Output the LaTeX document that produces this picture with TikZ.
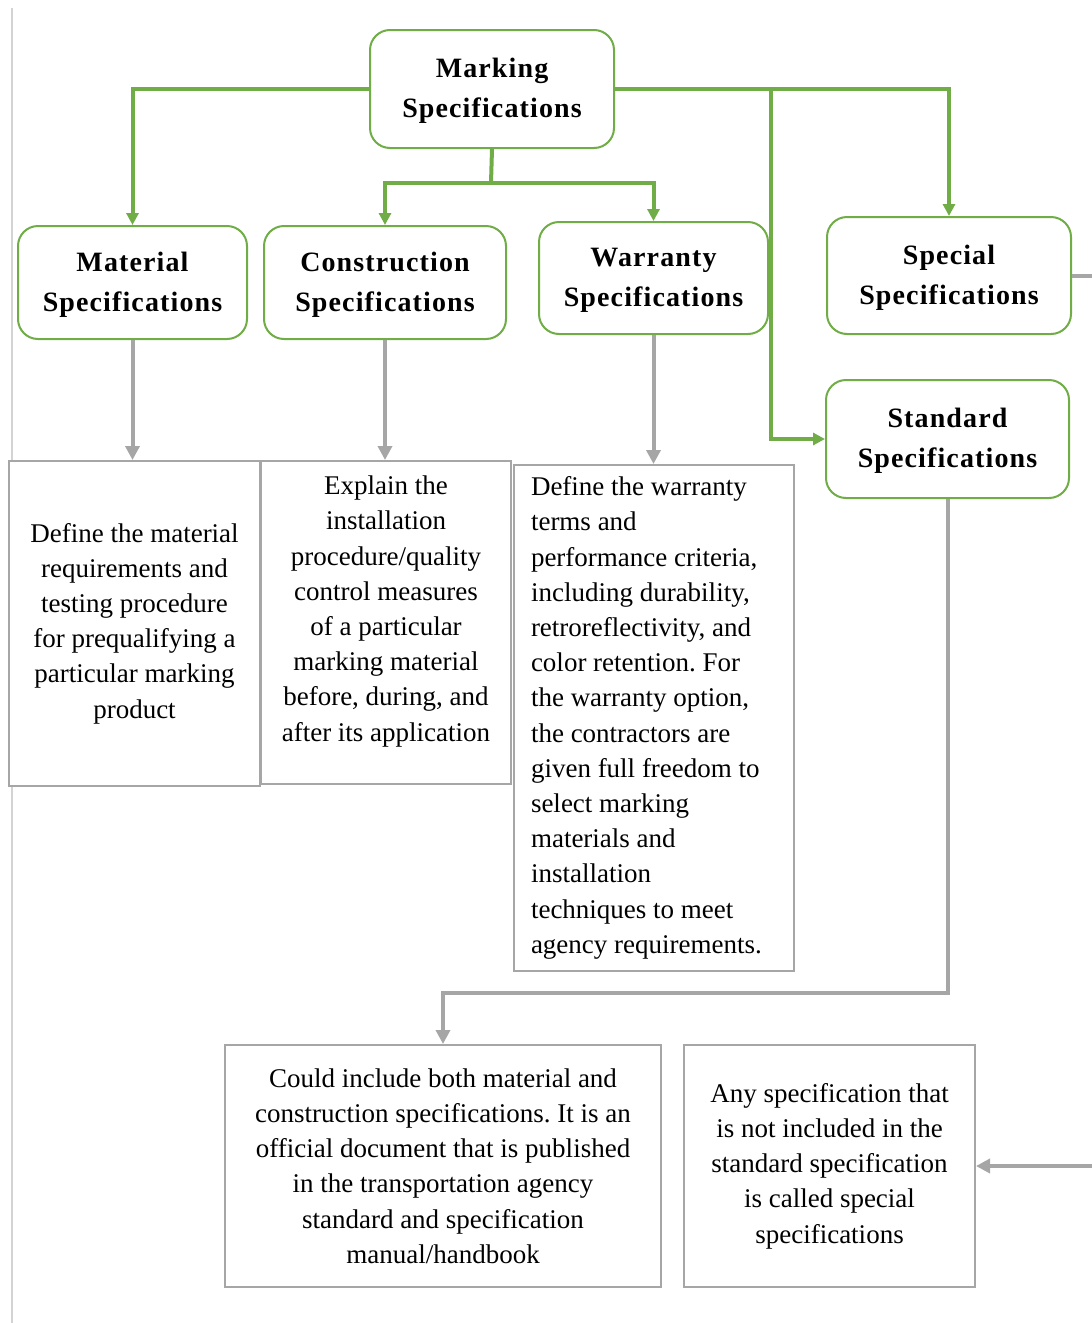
\documentclass[tikz,border=0pt]{standalone}
\usepackage{fontspec}
\setmainfont{Liberation Serif}
\newfontfamily\headfont[LetterSpace=4]{Liberation Serif}
\usetikzlibrary{arrows.meta}

\definecolor{specgreen}{HTML}{70AD47}
\definecolor{specgray}{HTML}{A6A6A6}

\begin{document}
\begin{tikzpicture}[x=0.5pt,y=-0.5pt,
    head/.style={draw=specgreen,line width=1pt,rounded corners=10pt,fill=white,align=center,
        inner sep=0pt,text depth=1pt,font=\headfont\bfseries\fontsize{14}{20}\selectfont},
    desc/.style={draw=specgray,line width=1pt,fill=white,align=center,inner sep=0pt,
        font=\frenchspacing\fontsize{13.5}{17.6}\selectfont},
    glink/.style={draw=specgreen,line width=2pt},
    ylink/.style={draw=specgray,line width=2pt},
    tip/.style={-{Triangle[length=6pt,width=6pt]}},
    ytip/.style={-{Triangle[length=7pt,width=7pt]}}]
        \clip (0,0) rectangle (1092,1323);
        \draw[specgray!50,line width=0.6pt] (12,8) -- (12,1323);
        % spec headings
        \node [head,minimum width=122pt,minimum height=59pt] (mark) at (492,89) {Marking\\Specifications};
        \node [head,minimum width=114.5pt,minimum height=56.5pt] (mat) at (132.5,282.5) {Material\\Specifications};
        \node [head,minimum width=121pt,minimum height=56.5pt] (cons) at (385,282.5) {Construction\\Specifications};
        \node [head,minimum width=114.5pt,minimum height=56pt] (warr) at (653.5,278) {Warranty\\Specifications};
        \node [head,minimum width=122pt,minimum height=58.5pt] (spec) at (949,275.5) {Special\\Specifications};
        \node [head,minimum width=121.5pt,minimum height=59pt] (std) at (947.5,439) {Standard\\Specifications};
        % descriptions
        \node [desc,minimum width=125.5pt,minimum height=162.5pt] (matd) at (134.5,623.5)
            {Define the material\\requirements and\\testing procedure\\for prequalifying a\\particular marking\\product};
        \node [desc,minimum width=125pt,minimum height=161.5pt,text depth=14pt] (consd) at (386,622.5)
            {Explain the\\installation\\procedure/quality\\control measures\\of a particular\\marking material\\before, during, and\\after its application};
        \node [desc,align=flush left,text width=123pt,inner xsep=8.5pt,minimum height=253pt] (warrd) at (654,718)
            {Define the warranty\\terms and\\performance criteria,\\including durability,\\retroreflectivity, and\\color retention. For\\the warranty option,\\the contractors are\\given full freedom to\\select marking\\materials and\\installation\\techniques to meet\\agency requirements.};
        \node [desc,minimum width=218pt,minimum height=121pt] (stdd) at (443,1166)
            {Could include both material and\\construction specifications. It is an\\official document that is published\\in the transportation agency\\standard and specification\\manual/handbook};
        \node [desc,minimum width=145.5pt,minimum height=121pt] (specd) at (829.5,1166)
            {Any specification that\\is not included in the\\standard specification\\is called special\\specifications};
        % green links from the top
        \coordinate (fork) at (491,183);
        \coordinate (split) at (771,89);
        \draw[glink,tip] (mark.west) -| (mat.north);
        \draw[glink,tip] (mark.east) -| (spec.north);
        \draw[glink,tip] (split) |- (std.west);
        \draw[glink] (mark.south) -- (fork);
        \draw[glink,tip] (fork) -| (cons.north);
        \draw[glink,tip] (fork) -| (warr.north);
        % gray links to the descriptions
        \coordinate (low) at (700,993);
        \draw[ylink,ytip] (mat.south) -- (mat.south |- matd.north);
        \draw[ylink,ytip] (cons.south) -- (cons.south |- consd.north);
        \draw[ylink,ytip] (warr.south) -- (warr.south |- warrd.north);
        \draw[ylink,ytip] (std.south) -- (std.south |- low) -| (stdd.north);
        \draw[ylink,ytip] (spec.east) -- ++(40,0) |- (specd.east);
\end{tikzpicture}
\end{document}
